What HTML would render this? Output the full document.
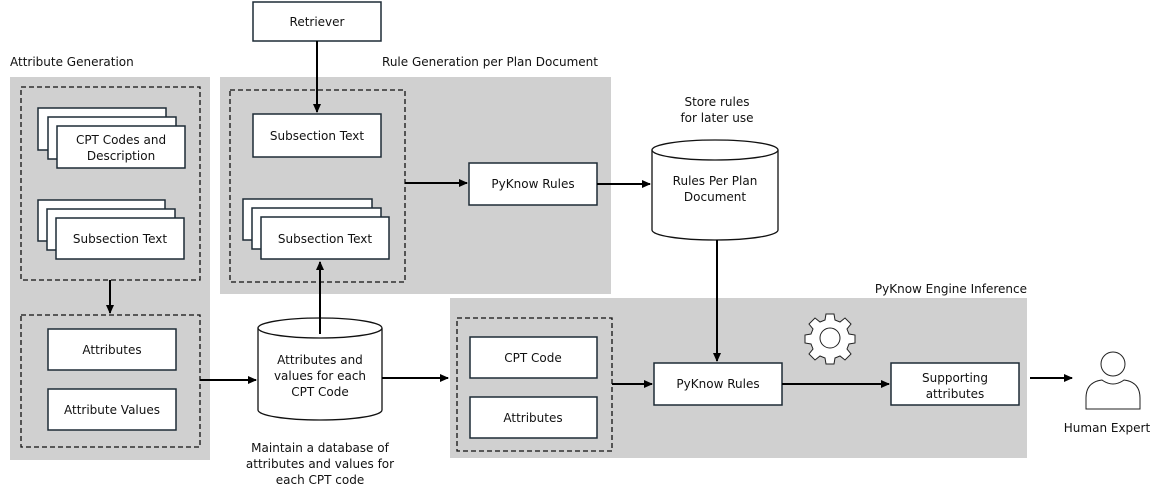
<!DOCTYPE html>
<html><head><meta charset="utf-8"><style>
html,body{margin:0;padding:0;background:#fff}
svg{display:block}
text{font-family:"DejaVu Sans","Liberation Sans",sans-serif;font-size:12px;fill:#111}
</style></head><body>
<svg width="1163" height="496" viewBox="0 0 1163 496" xmlns="http://www.w3.org/2000/svg">
<defs><marker id="a" markerWidth="10" markerHeight="10" refX="8" refY="4" orient="auto" markerUnits="userSpaceOnUse"><path d="M0,0 L9,4 L0,8 z" fill="#000"/></marker></defs>
<g fill="#d0d0d0">
<rect x="10" y="77" width="200" height="383"/>
<rect x="220" y="77" width="391" height="217"/>
<rect x="450" y="298" width="577" height="160"/>
</g>
<text x="10" y="66">Attribute Generation</text>
<text x="490" y="66" text-anchor="middle">Rule Generation per Plan Document</text>
<text x="1027" y="293" text-anchor="end">PyKnow Engine Inference</text>
<g fill="none" stroke="#111" stroke-width="1.3" stroke-dasharray="5,3">
<rect x="21" y="87" width="179" height="193"/>
<rect x="21" y="315" width="179" height="132"/>
<rect x="230" y="90" width="175" height="192"/>
<rect x="457" y="318" width="155" height="133"/>
</g>
<g fill="#fff" stroke="#1d2b36" stroke-width="1.5">
<rect x="38" y="108" width="128" height="42"/><rect x="48" y="117" width="128" height="42"/><rect x="57" y="126" width="128" height="42"/>
<rect x="38" y="200" width="127" height="41"/><rect x="47" y="209" width="128" height="41"/><rect x="56" y="218" width="128" height="41"/>
<rect x="48" y="329" width="128" height="41"/><rect x="48" y="389" width="128" height="41"/>
<rect x="253" y="2" width="128" height="39"/>
<rect x="253" y="114" width="128" height="43"/>
<rect x="243" y="199" width="129" height="41"/><rect x="252" y="208" width="129" height="41"/><rect x="261" y="217" width="128" height="42"/>
<rect x="469" y="163" width="128" height="42"/>
<rect x="470" y="337" width="127" height="41"/><rect x="470" y="397" width="127" height="41"/>
<rect x="654" y="363" width="128" height="42"/>
<rect x="891" y="363" width="128" height="42"/>
</g>
<g stroke="#111" stroke-width="1.3" fill="#fff">
<path d="M258,328 L258,410 A62,10 0 0 0 382,410 L382,328"/>
<ellipse cx="320" cy="328" rx="62" ry="10"/>
<path d="M652,150 L652,230 A63,10 0 0 0 778,230 L778,150"/>
<ellipse cx="715" cy="150" rx="63" ry="10"/>
</g>
<g text-anchor="middle">
<text x="121" y="144">CPT Codes and</text><text x="121" y="160">Description</text>
<text x="120" y="243">Subsection Text</text>
<text x="112" y="354">Attributes</text>
<text x="112" y="414">Attribute Values</text>
<text x="317" y="26">Retriever</text>
<text x="317" y="140">Subsection Text</text>
<text x="325" y="243">Subsection Text</text>
<text x="533" y="188">PyKnow Rules</text>
<text x="533" y="362">CPT Code</text>
<text x="533" y="422">Attributes</text>
<text x="718" y="388">PyKnow Rules</text>
<text x="955" y="382">Supporting</text><text x="955" y="398">attributes</text>
<text x="320" y="364">Attributes and</text><text x="320" y="380">values for each</text><text x="320" y="396">CPT Code</text>
<text x="320" y="452">Maintain a database of</text><text x="320" y="468">attributes and values for</text><text x="320" y="484">each CPT code</text>
<text x="715" y="185">Rules Per Plan</text><text x="715" y="201">Document</text>
<text x="717" y="106">Store rules</text><text x="717" y="122">for later use</text>
<text x="1107" y="432">Human Expert</text>
</g>
<g stroke="#000" stroke-width="2" fill="none" marker-end="url(#a)">
<line x1="317" y1="41" x2="317" y2="112"/>
<line x1="110" y1="280" x2="110" y2="313"/>
<line x1="200" y1="380" x2="256" y2="380"/>
<line x1="320" y1="334" x2="320" y2="262"/>
<line x1="382" y1="378" x2="448" y2="378"/>
<line x1="405" y1="183" x2="467" y2="183"/>
<line x1="597" y1="184" x2="650" y2="184"/>
<line x1="717" y1="240" x2="717" y2="361"/>
<line x1="612" y1="384" x2="652" y2="384"/>
<line x1="782" y1="384" x2="889" y2="384"/>
<line x1="1030" y1="378" x2="1072" y2="378"/>
</g>
<g fill="#fff" stroke="#222" stroke-width="1">
<path d="M826,314 l8,0 l1,6 l5,2 l5,-4 l6,6 l-4,5 l2,5 l6,1 l0,8 l-6,1 l-2,5 l4,5 l-6,6 l-5,-4 l-5,2 l-1,6 l-8,0 l-1,-6 l-5,-2 l-5,4 l-6,-6 l4,-5 l-2,-5 l-6,-1 l0,-8 l6,-1 l2,-5 l-4,-5 l6,-6 l5,4 l5,-2 z"/>
<circle cx="830" cy="338" r="10"/>
<circle cx="1113" cy="364" r="12"/>
<path d="M1086,409 L1086,398 Q1086,382 1102,380 Q1113,388 1124,380 Q1140,382 1140,398 L1140,409 Z"/>
</g>
</svg>
</body></html>
